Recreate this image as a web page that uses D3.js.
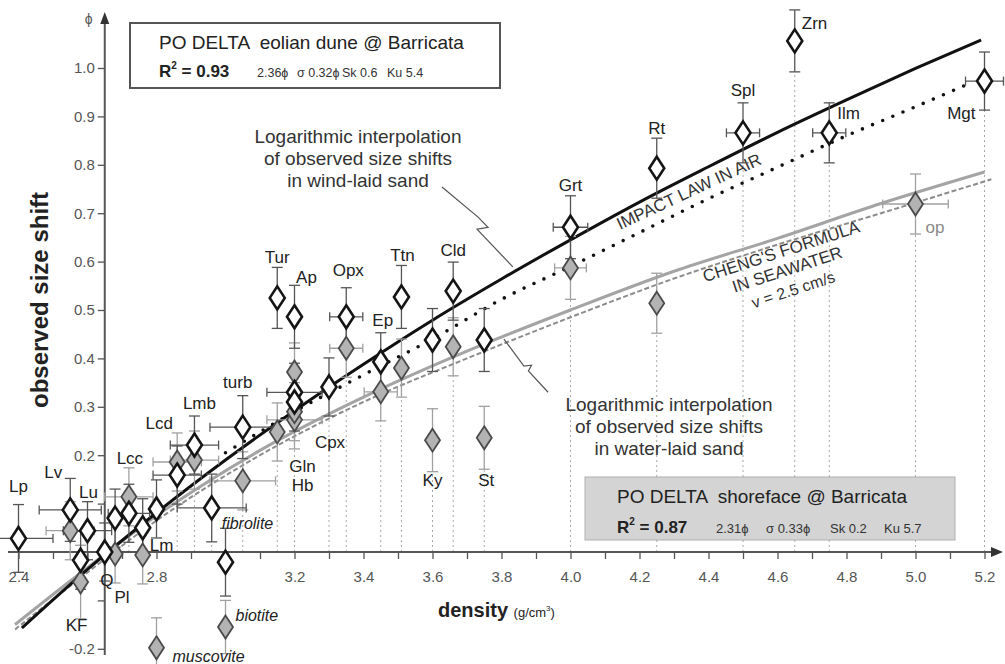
<!DOCTYPE html>
<html><head><meta charset="utf-8">
<script src="https://cdn.jsdelivr.net/npm/d3@7"></script>
<style>
body{margin:0;background:#fff}
svg{display:block;font-family:"Liberation Sans",Arial,Helvetica,sans-serif}
</style></head><body>
<svg id="chart" width="1005" height="664"></svg>
<script>
// ---- data -------------------------------------------------------------
const minerals = ["Lp","Lv","Lu","KF","Q","Pl","Lcc","Lm","muscovite","Lcd","Lmb","fibrolite","biotite","turb",
  "Tur","Ap","Gln","Hb","Cpx","Opx","Ep","Ttn","Ky","Cld","St","Grt","Rt","Spl","Zrn","Ilm","op","Mgt"];
const density = [2.40,2.55,2.60,2.58,2.65,2.68,2.72,2.76,2.80,2.86,2.91,2.96,3.00,3.05,
  3.15,3.20,3.20,3.20,3.30,3.35,3.45,3.51,3.60,3.66,3.75,4.00,4.25,4.50,4.65,4.75,5.00,5.20];
// size shift (phi) observed in the eolian dune (white diamonds)
const eolianShift = [0.028,0.087,0.044,-0.017,0.000,0.070,0.080,0.050,0.089,0.159,0.221,0.091,-0.021,0.258,
  0.525,0.486,0.330,0.310,0.341,0.486,0.393,0.527,0.438,0.539,0.438,0.671,0.793,0.866,1.056,0.866,null,0.973];
const eolianErr = [0.07,0.065,0.06,0.06,0.06,0.06,0.06,0.06,0.06,0.06,0.06,0.07,0.07,0.065,
  0.063,0.065,0.06,0.06,0.06,0.06,0.06,0.065,0.065,0.06,0.065,0.065,0.062,0.062,0.064,0.062,null,0.06];
const eolianDensErr = [0.10,0.09,0.07,0,0,0,0.06,0,0,0.07,0.07,0.10,0,0.095,
  0,0,0.08,0,0,0.048,0,0,0,0,0,0.05,0,0.048,0,0.048,0,0.055];
// size shift (phi) observed in the shoreface (grey diamonds)
const shorefaceShift = [null,0.044,null,-0.062,null,-0.004,0.114,-0.006,-0.198,0.186,0.190,null,-0.155,0.147,
  0.248,0.372,0.273,0.290,null,0.421,0.331,0.380,0.231,0.424,0.236,0.587,0.514,null,null,null,0.719,null];
const shorefaceErr = [null,0.06,null,0.076,null,0.06,0.06,0.06,0.062,0.06,0.06,null,0.055,0.06,
  0.06,0.06,0.06,0.06,null,0.06,0.06,0.06,0.065,0.06,0.065,0.065,0.062,null,null,null,0.062,null];
const shorefaceDensErr = [0,0.07,0,0,0,0,0.07,0,0,0.07,0.07,0,0,0.095,
  0,0,0.08,0,0,0.048,0.048,0,0,0,0,0.046,0,0,0,0,0.095,0];

// curves read along density
const windFitDensity = [2.41,2.6,2.8,3.0,3.2,3.4,3.6,3.8,4.0,4.2,4.4,4.6,4.8,5.0,5.19];
const windFitShift   = [-0.157,-0.036,0.081,0.190,0.292,0.388,0.479,0.564,0.645,0.723,0.796,0.867,0.934,0.999,1.058];
const waterFitDensity = [2.39,2.55,2.8,3.1,3.4,3.7,4.0,4.3,4.6,4.9,5.2];
const waterFitShift   = [-0.150,-0.060,0.075,0.210,0.320,0.415,0.500,0.580,0.648,0.720,0.785];
const chengDensity = [2.39,2.55,2.8,3.1,3.4,3.7,4.0,4.3,4.6,4.9,5.22];
const chengShift   = [-0.160,-0.070,0.065,0.200,0.310,0.400,0.485,0.565,0.635,0.700,0.770];
const impactDensity = [3.0,3.2,3.4,3.6,3.8,4.0,4.2,4.4,4.6,4.8,5.0,5.14];
const impactShift   = [0.205,0.290,0.366,0.440,0.522,0.590,0.660,0.730,0.795,0.860,0.920,0.963];

// axis ticks
const xTickValues = d3.range(24, 53).map(v => v / 10);
const xTickLabels = ["2.4","2.8","3.2","3.4","3.6","3.8","4.0","4.2","4.4","4.6","4.8","5.0","5.2"];
const yTickValues = d3.range(-2, 11).map(v => v / 10);
const yTickLabels = ["-0.2","0.2","0.3","0.4","0.5","0.6","0.7","0.8","0.9","1.0"];

// label layout: [dx, dy, anchor, reference series]
const labelLayout = {
  Lp:[0,-52,"middle","w"], Lv:[-17,-38,"middle","w"], Lu:[1,-39,"middle","w"], KF:[-4,65,"middle","w"],
  Q:[2,28,"middle","w"], Pl:[7,43,"middle","g"], Lcc:[1,-55,"middle","w"], Lm:[7,-10,"start","g"],
  muscovite:[16,9,"start","g"], Lcd:[-18,-52,"middle","w"], Lmb:[5,-42,"middle","w"],
  fibrolite:[10,15,"start","w"], biotite:[10,-12,"start","g"], turb:[-5,-45,"middle","w"],
  Tur:[0,-41,"middle","w"], Ap:[12,-40,"middle","w"], Gln:[8,46,"middle","g"], Hb:[8,73,"middle","g"],
  Cpx:[1,55,"middle","w"], Opx:[2,-47,"middle","w"], Ep:[2,-42,"middle","w"], Ttn:[1,-42,"middle","w"],
  Ky:[0,40,"middle","g"], Cld:[0,-41,"middle","w"], St:[2,42,"middle","g"], Grt:[0,-42,"middle","w"],
  Rt:[0,-40,"middle","w"], Spl:[0,-43,"middle","w"], Zrn:[7,-18,"start","w"], Ilm:[8,-20,"start","w"],
  op:[10,23,"start","g"], Mgt:[-9,32,"end","w"]
};
const italicLabels = ["fibrolite","biotite","muscovite"];

// ---- scales -----------------------------------------------------------
const x = d3.scaleLinear().domain([2.4, 5.2]).range([18.5, 984.5]);
const y = d3.scaleLinear().domain([-0.2, 1.0]).range([648.8, 68]);

const svg = d3.select("#chart");
const rows = minerals.map((m, i) => ({
  name: m, d: density[i],
  w: eolianShift[i], we: eolianErr[i], wh: eolianDensErr[i],
  g: shorefaceShift[i], ge: shorefaceErr[i], gh: shorefaceDensErr[i]
}));

// ---- dotted guide lines from each column down to the density axis ------
const guides = svg.append("g");
rows.forEach(r => {
  const lows = [];
  if (r.w != null) lows.push(r.w - r.we);
  if (r.g != null) lows.push(r.g - r.ge);
  const low = d3.min(lows);
  if (low > 0) {
    guides.append("line")
      .attr("x1", x(r.d)).attr("x2", x(r.d))
      .attr("y1", y(0)).attr("y2", y(low))
      .attr("stroke", "#a8a8a8").attr("stroke-width", 1).attr("stroke-dasharray", "2,3");
  }
});

// ---- axes -------------------------------------------------------------
const axisColor = "#555";
const xAxis = svg.append("g").attr("transform", `translate(0,${y(0)})`)
  .call(d3.axisBottom(x).tickValues(xTickValues).tickSize(7).tickPadding(12)
    .tickFormat(v => xTickLabels.includes(v.toFixed(1)) ? v.toFixed(1) : ""));
xAxis.select(".domain").remove();
xAxis.selectAll(".tick line").attr("stroke", axisColor).attr("stroke-width", 1.3);
xAxis.selectAll(".tick text").attr("fill", "#555").attr("font-size", 15)
  .attr("font-family", "Liberation Sans, Arial, sans-serif");
svg.append("line").attr("x1", 8).attr("x2", 995).attr("y1", y(0)).attr("y2", y(0))
  .attr("stroke", axisColor).attr("stroke-width", 2);
svg.append("path").attr("d", `M1003,${y(0)} L991,${y(0) - 5} L991,${y(0) + 5} Z`).attr("fill", "#333");

const yAxisX = x(2.65);
const yAxis = svg.append("g").attr("transform", `translate(${yAxisX},0)`)
  .call(d3.axisLeft(y).tickValues(yTickValues).tickSize(7).tickPadding(3)
    .tickFormat(v => yTickLabels.includes(v.toFixed(1)) ? v.toFixed(1) : ""));
yAxis.select(".domain").remove();
yAxis.selectAll(".tick line").attr("stroke", axisColor).attr("stroke-width", 1.3);
yAxis.selectAll(".tick text").attr("fill", "#555").attr("font-size", 15)
  .attr("font-family", "Liberation Sans, Arial, sans-serif");
svg.append("line").attr("x1", yAxisX).attr("x2", yAxisX).attr("y1", 655).attr("y2", 24)
  .attr("stroke", axisColor).attr("stroke-width", 2);
svg.append("path").attr("d", `M${yAxisX},12 L${yAxisX - 4.5},24 L${yAxisX + 4.5},24 Z`).attr("fill", "#333");
svg.append("text").attr("x", yAxisX - 16).attr("y", 24).attr("text-anchor", "middle")
  .attr("font-size", 14).attr("fill", "#555").text("ϕ");

// axis titles
svg.append("text").attr("transform", "translate(48,300) rotate(-90)").attr("text-anchor", "middle")
  .attr("font-size", 24).attr("font-weight", "bold").attr("fill", "#222").text("observed size shift");
const dt = svg.append("text").attr("x", 438).attr("y", 617).attr("fill", "#222");
dt.append("tspan").attr("font-size", 20).attr("font-weight", "bold").text("density ");
dt.append("tspan").attr("font-size", 13).text("(g/cm");
dt.append("tspan").attr("font-size", 8).attr("dy", -6).text("3");
dt.append("tspan").attr("font-size", 13).attr("dy", 6).text(")");

// ---- curves -----------------------------------------------------------
function curve(ds, vs) {
  return d3.line().x(i => x(ds[i])).y(i => y(vs[i])).curve(d3.curveMonotoneX)(d3.range(ds.length));
}
svg.append("path").attr("d", curve(chengDensity, chengShift)).attr("fill", "none")
  .attr("stroke", "#8c8c8c").attr("stroke-width", 2).attr("stroke-dasharray", "5,2.5");
svg.append("path").attr("d", curve(waterFitDensity, waterFitShift)).attr("fill", "none")
  .attr("stroke", "#a4a4a4").attr("stroke-width", 3);
svg.append("path").attr("d", curve(impactDensity, impactShift)).attr("fill", "none")
  .attr("stroke", "#111").attr("stroke-width", 3.6).attr("stroke-linecap", "round")
  .attr("stroke-dasharray", "0,11");
svg.append("path").attr("d", curve(windFitDensity, windFitShift)).attr("fill", "none")
  .attr("stroke", "#111").attr("stroke-width", 3);

// ---- legend boxes -----------------------------------------------------
svg.append("rect").attr("x", 130).attr("y", 23).attr("width", 370).attr("height", 65)
  .attr("fill", "#fff").attr("stroke", "#555").attr("stroke-width", 2);
svg.append("text").attr("x", 159).attr("y", 49).attr("font-size", 19).attr("fill", "#222")
  .style("white-space", "pre").text("PO DELTA  eolian dune @ Barricata");
function statLine(x0, yb, r2, stats, size) {
  const t = svg.append("text").attr("x", x0).attr("y", yb).attr("fill", "#222").attr("font-weight", "bold");
  t.append("tspan").attr("font-size", 17).text("R");
  t.append("tspan").attr("font-size", 10).attr("dy", -8).text("2");
  t.append("tspan").attr("font-size", 17).attr("dy", 8).text(" = " + r2);
  stats.forEach(s => svg.append("text").attr("x", s[0]).attr("y", yb).attr("font-size", size)
    .attr("fill", "#333").text(s[1]));
}
statLine(159, 77, "0.93", [[257, "2.36ϕ"], [297, "σ 0.32ϕ"], [342, "Sk 0.6"], [387, "Ku 5.4"]], 12.5);

// ---- annotations ------------------------------------------------------
function textBlock(cx, yb, lines, size) {
  lines.forEach((l, i) => svg.append("text").attr("x", cx).attr("y", yb + i * 22)
    .attr("text-anchor", "middle").attr("font-size", size).attr("fill", "#333").text(l));
}
textBlock(358, 143, ["Logarithmic interpolation", "of observed size shifts", "in wind-laid sand"], 19);
textBlock(669, 411, ["Logarithmic interpolation", "of observed size shifts", "in water-laid sand"], 19);

const leader = d3.line().x(p => x(p[0])).y(p => y(p[1]));
const windLeader = [[3.6275,0.754],[3.732,0.692],[3.761,0.671],[3.729,0.667],[3.833,0.589]];
const waterLeader = [[3.935,0.33],[3.878,0.374],[3.887,0.386],[3.865,0.384],[3.807,0.44]];
svg.append("path").attr("d", leader(windLeader)).attr("fill", "none").attr("stroke", "#555").attr("stroke-width", 1.2);
svg.append("path").attr("d", leader(waterLeader)).attr("fill", "none").attr("stroke", "#555").attr("stroke-width", 1.2);

svg.append("text").attr("transform", "translate(620,230) rotate(-25)").attr("font-size", 17)
  .attr("fill", "#333").text("IMPACT LAW IN AIR");
[["CHENG'S FORMULA", 783, 257, 17], ["IN SEAWATER", 789, 275, 17], ["v = 2.5 cm/s", 795, 295, 16]].forEach(t =>
  svg.append("text").attr("transform", `translate(${t[1]},${t[2]}) rotate(-18)`).attr("text-anchor", "middle")
    .attr("font-size", t[3]).attr("fill", "#333").text(t[0]));

// ---- error bars -------------------------------------------------------
function errorBars(key, ekey, hkey, color) {
  const g = svg.append("g").attr("stroke", color).attr("stroke-width", 1.3).attr("fill", "none");
  rows.filter(r => r[key] != null).forEach(r => {
    const cx = x(r.d), v = r[key], e = r[ekey], h = r[hkey];
    g.append("line").attr("x1", cx).attr("x2", cx).attr("y1", y(v - e)).attr("y2", y(v + e));
    [v - e, v + e].forEach(t => g.append("line").attr("x1", cx - 5.5).attr("x2", cx + 5.5)
      .attr("y1", y(t)).attr("y2", y(t)));
    if (h > 0) {
      g.append("line").attr("x1", x(r.d - h)).attr("x2", x(r.d + h)).attr("y1", y(v)).attr("y2", y(v));
      [r.d - h, r.d + h].forEach(t => g.append("line").attr("x1", x(t)).attr("x2", x(t))
        .attr("y1", y(v) - 4.5).attr("y2", y(v) + 4.5));
    }
  });
}
errorBars("g", "ge", "gh", "#a0a0a0");
errorBars("w", "we", "wh", "#555");

// ---- diamonds ---------------------------------------------------------
const diamond = "M0,-11.5 L7.5,0 L0,11.5 L-7.5,0 Z";
svg.append("g").selectAll("path").data(rows.filter(r => r.g != null)).join("path")
  .attr("d", diamond).attr("transform", r => `translate(${x(r.d)},${y(r.g)})`)
  .attr("fill", "#b3b3b3").attr("stroke", "#4a4a4a").attr("stroke-width", 1.8);
svg.append("g").selectAll("path").data(rows.filter(r => r.w != null)).join("path")
  .attr("d", diamond).attr("transform", r => `translate(${x(r.d)},${y(r.w)})`)
  .attr("fill", "#fff").attr("stroke", "#151515").attr("stroke-width", 2.6);

// ---- mineral labels ---------------------------------------------------
rows.forEach(r => {
  const L = labelLayout[r.name];
  const v = L[3] === "w" ? r.w : r.g;
  const italic = italicLabels.includes(r.name);
  svg.append("text").attr("x", x(r.d) + L[0]).attr("y", y(v) + L[1])
    .attr("dy", "0.35em").attr("text-anchor", L[2])
    .attr("font-size", italic ? 16 : 17).attr("font-style", italic ? "italic" : "normal")
    .attr("fill", r.name === "op" ? "#8a8a8a" : "#222").text(r.name);
});

// ---- shoreface legend (drawn last, over the guides) --------------------
svg.append("rect").attr("x", 585).attr("y", 477).attr("width", 370).attr("height", 63)
  .attr("fill", "#d4d4d4").attr("stroke", "#b0b0b0").attr("stroke-width", 1);
svg.append("text").attr("x", 617).attr("y", 503).attr("font-size", 19).attr("fill", "#222")
  .style("white-space", "pre").text("PO DELTA  shoreface @ Barricata");
statLine(617, 533, "0.87", [[716, "2.31ϕ"], [766, "σ 0.33ϕ"], [830, "Sk 0.2"], [884, "Ku 5.7"]], 13);
</script>
</body></html>
